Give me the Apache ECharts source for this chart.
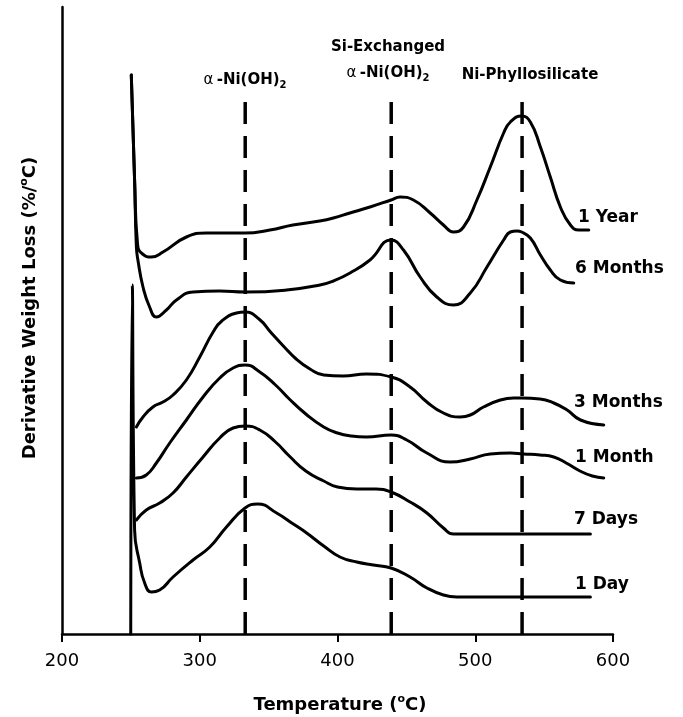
<!DOCTYPE html>
<html><head><meta charset="utf-8">
<script src="https://cdn.jsdelivr.net/npm/echarts@6/dist/echarts.min.js"></script>
<style>html,body{margin:0;padding:0;background:#fff}#c{width:683px;height:717px}</style>
</head><body><div id="c"></div>
<script>
// x axis ticks (°C)
const xTicks = [200, 300, 400, 500, 600];
// characteristic peak temperatures (dashed lines)
const peakTemps = [333, 439, 534];
const peakLineTop = 532;

// 1 Year
const yearT = [250.3, 252.7, 254.9, 258.5, 264.9, 273.3, 290.3, 304.9, 332.9, 350.9, 367.6, 387, 397, 409, 423.6, 438.9, 445.5, 455.1, 467.3, 476.9, 484.2, 491.5, 501.2, 510.9, 520.6, 525.5, 533.7, 540, 547.3, 554.5, 561.8, 569.1, 575.1, 582.4];
const yearV = [559, 454, 389, 380, 377, 382, 397, 401, 401, 404, 409, 413, 416, 421, 427, 434, 437, 434, 421, 409, 402, 407, 434, 467, 501, 512, 518, 512, 487, 457, 427, 409, 404, 404];
// 6 Months
const m6T = [250.3, 252.7, 254, 255.1, 258.8, 263.6, 268.5, 275.8, 283.1, 295.1, 314.5, 332.9, 363.1, 387.3, 397, 409.1, 423.6, 438.9, 447.9, 460, 472.1, 484.2, 496.4, 508.5, 520.6, 525.5, 530.3, 533.7, 540, 547.3, 554.5, 561.8, 571.5];
const m6V = [559, 454, 387, 374, 347, 327, 317, 324, 334, 342, 343, 342, 344, 349, 353, 361, 374, 394, 384, 357, 337, 329, 341, 367, 394, 402, 403, 402, 396, 379, 364, 354, 351];
// 3 Months
const m3T = [254, 258.8, 266, 273.3, 280.6, 290.3, 300, 309.7, 316, 326.7, 332.9, 343, 352, 360, 370, 380, 390, 404, 421, 439, 452.7, 464.9, 476.9, 489.1, 496.4, 506, 518.2, 527.9, 533.7, 547, 557, 566.7, 576.4, 593.3];
const m3V = [207, 217, 227, 232, 239, 254, 277, 302, 313, 321, 322, 315, 301, 289, 275, 265, 259, 258, 260, 257, 247, 232, 221, 217, 219, 227, 234, 236, 236, 235, 231, 224, 214, 209];
// 1 Month
const m1T = [254, 261.2, 268.5, 278.2, 290.3, 302.4, 314.5, 324.2, 332.9, 343.6, 355, 365, 377, 390, 400, 410, 421, 438.9, 450.3, 464.9, 481.8, 496.4, 510.9, 525.5, 535, 547, 557, 566, 576, 585, 593.3];
const m1V = [156, 159, 171, 191, 214, 237, 256, 266, 269, 262, 249, 235, 220, 207, 201, 198, 197, 199, 194, 181, 172, 175, 180, 181, 180, 179, 177, 171, 163, 158, 156];
// 7 Days
const d7T = [254, 261.2, 270.9, 280.6, 290.3, 302.4, 314.5, 324.2, 332.9, 343.6, 355, 365, 377, 390, 400, 414, 428, 438.9, 452.7, 464.9, 476.9, 484.2, 525.5, 583.6];
const d7V = [114, 124, 131, 141, 157, 177, 196, 206, 208, 204, 192, 178, 163, 153, 147, 145, 145, 142, 132, 121, 106, 100, 100, 100];
// 1 Day
const d1T = [249.9, 251, 252.7, 256.4, 260, 264.9, 270.9, 280.6, 295.1, 307.3, 319.4, 332.9, 342, 355.8, 367.9, 377.6, 390, 401.8, 414, 426, 438.9, 452.7, 464.9, 476.9, 486.7, 525.5, 583.6];
const d1V = [0, 349, 104, 71, 51, 42, 44, 57, 74, 87, 107, 126, 130, 121, 110, 101, 88, 77, 72, 69, 66, 57, 46, 39, 37, 37, 37];

const seriesNames = ['1 Year', '6 Months', '3 Months', '1 Month', '7 Days', '1 Day'];
const seriesT = [yearT, m6T, m3T, m1T, d7T, d1T];
const seriesV = [yearV, m6V, m3V, m1V, d7V, d1V];

const zip = (a, b) => a.map((x, i) => [x, b[i]]);

const FONT = '"DejaVu Sans", "Liberation Sans", Arial, sans-serif';

const curveSeries = seriesNames.map((n, i) => ({
  name: n, type: 'line', data: zip(seriesT[i], seriesV[i]),
  showSymbol: false, symbol: 'none', smooth: 0.5,
  lineStyle: { color: '#000', width: 3, cap: 'round', join: 'round' }, silent: true, z: 3
}));
const dashSeries = peakTemps.map((t) => ({
  type: 'line', data: [[t, 0], [t, peakLineTop]], symbol: 'none', silent: true,
  lineStyle: { color: '#000', width: 3.5, type: [22, 12] }, z: 2
}));

// annotation label placement (pixels)
const labelPos = [[578, 218], [575, 269], [574, 403], [575, 458], [574, 520], [575, 585]];

const chart = echarts.init(document.getElementById('c'), null, { renderer: 'canvas' });
const labelStyle = { fill: '#000', font: 'bold 17px ' + FONT, align: 'left', verticalAlign: 'middle' };
const richTop = {
  g: { fontFamily: FONT, fontSize: 15, fontWeight: 'normal', color: '#000', lineHeight: 20 },
  b: { fontFamily: FONT, fontSize: 15, fontWeight: 'bold', color: '#000', lineHeight: 20 },
  sub: { fontFamily: FONT, fontSize: 10, fontWeight: 'bold', color: '#000', lineHeight: 20, verticalAlign: 'bottom' }
};
const richTitle = {
  t: { fontFamily: FONT, fontSize: 18, fontWeight: 'bold', color: '#000', lineHeight: 22 },
  s: { fontFamily: FONT, fontSize: 11, fontWeight: 'bold', color: '#000', lineHeight: 22, verticalAlign: 'top' }
};

chart.setOption({
  animation: false,
  backgroundColor: '#fff',
  grid: { left: 62, right: 70, top: 7, bottom: 83, containLabel: false },
  xAxis: {
    type: 'value', min: xTicks[0], max: xTicks[xTicks.length - 1], interval: 100,
    axisLine: { show: true, onZero: false, lineStyle: { color: '#000', width: 2.5 } },
    axisTick: { show: true, length: 8, lineStyle: { color: '#000', width: 2 } },
    axisLabel: { color: '#000', fontSize: 18, fontFamily: FONT, margin: 18 },
    splitLine: { show: false }
  },
  yAxis: {
    type: 'value', min: 0, max: 627,
    axisLine: { show: true, onZero: false, lineStyle: { color: '#000', width: 2.5 } },
    axisTick: { show: false }, axisLabel: { show: false }, splitLine: { show: false }
  },
  series: dashSeries.concat(curveSeries),
  graphic: [
    ...seriesNames.map((n, i) => ({ type: 'text', x: labelPos[i][0], y: labelPos[i][1], style: Object.assign({ text: n }, labelStyle) })),
    { type: 'text', x: 245, y: 80, style: { text: '{g|α} {b|-Ni(OH)}{sub|2}', rich: richTop, align: 'center', verticalAlign: 'middle' } },
    { type: 'text', x: 388, y: 47, style: { text: '{b|Si-Exchanged}', rich: richTop, align: 'center', verticalAlign: 'middle' } },
    { type: 'text', x: 388, y: 73, style: { text: '{g|α} {b|-Ni(OH)}{sub|2}', rich: richTop, align: 'center', verticalAlign: 'middle' } },
    { type: 'text', x: 530, y: 75, style: { text: '{b|Ni-Phyllosilicate}', rich: richTop, align: 'center', verticalAlign: 'middle' } },
    { type: 'text', x: 340, y: 705, style: { text: '{t|Temperature (}{s|o}{t|C)}', rich: richTitle, align: 'center', verticalAlign: 'middle' } },
    { type: 'text', x: 30, y: 308, rotation: Math.PI / 2, style: { text: '{t|Derivative Weight Loss (%/}{s|o}{t|C)}', rich: richTitle, align: 'center', verticalAlign: 'middle' } }
  ]
});
</script>
</body></html>
